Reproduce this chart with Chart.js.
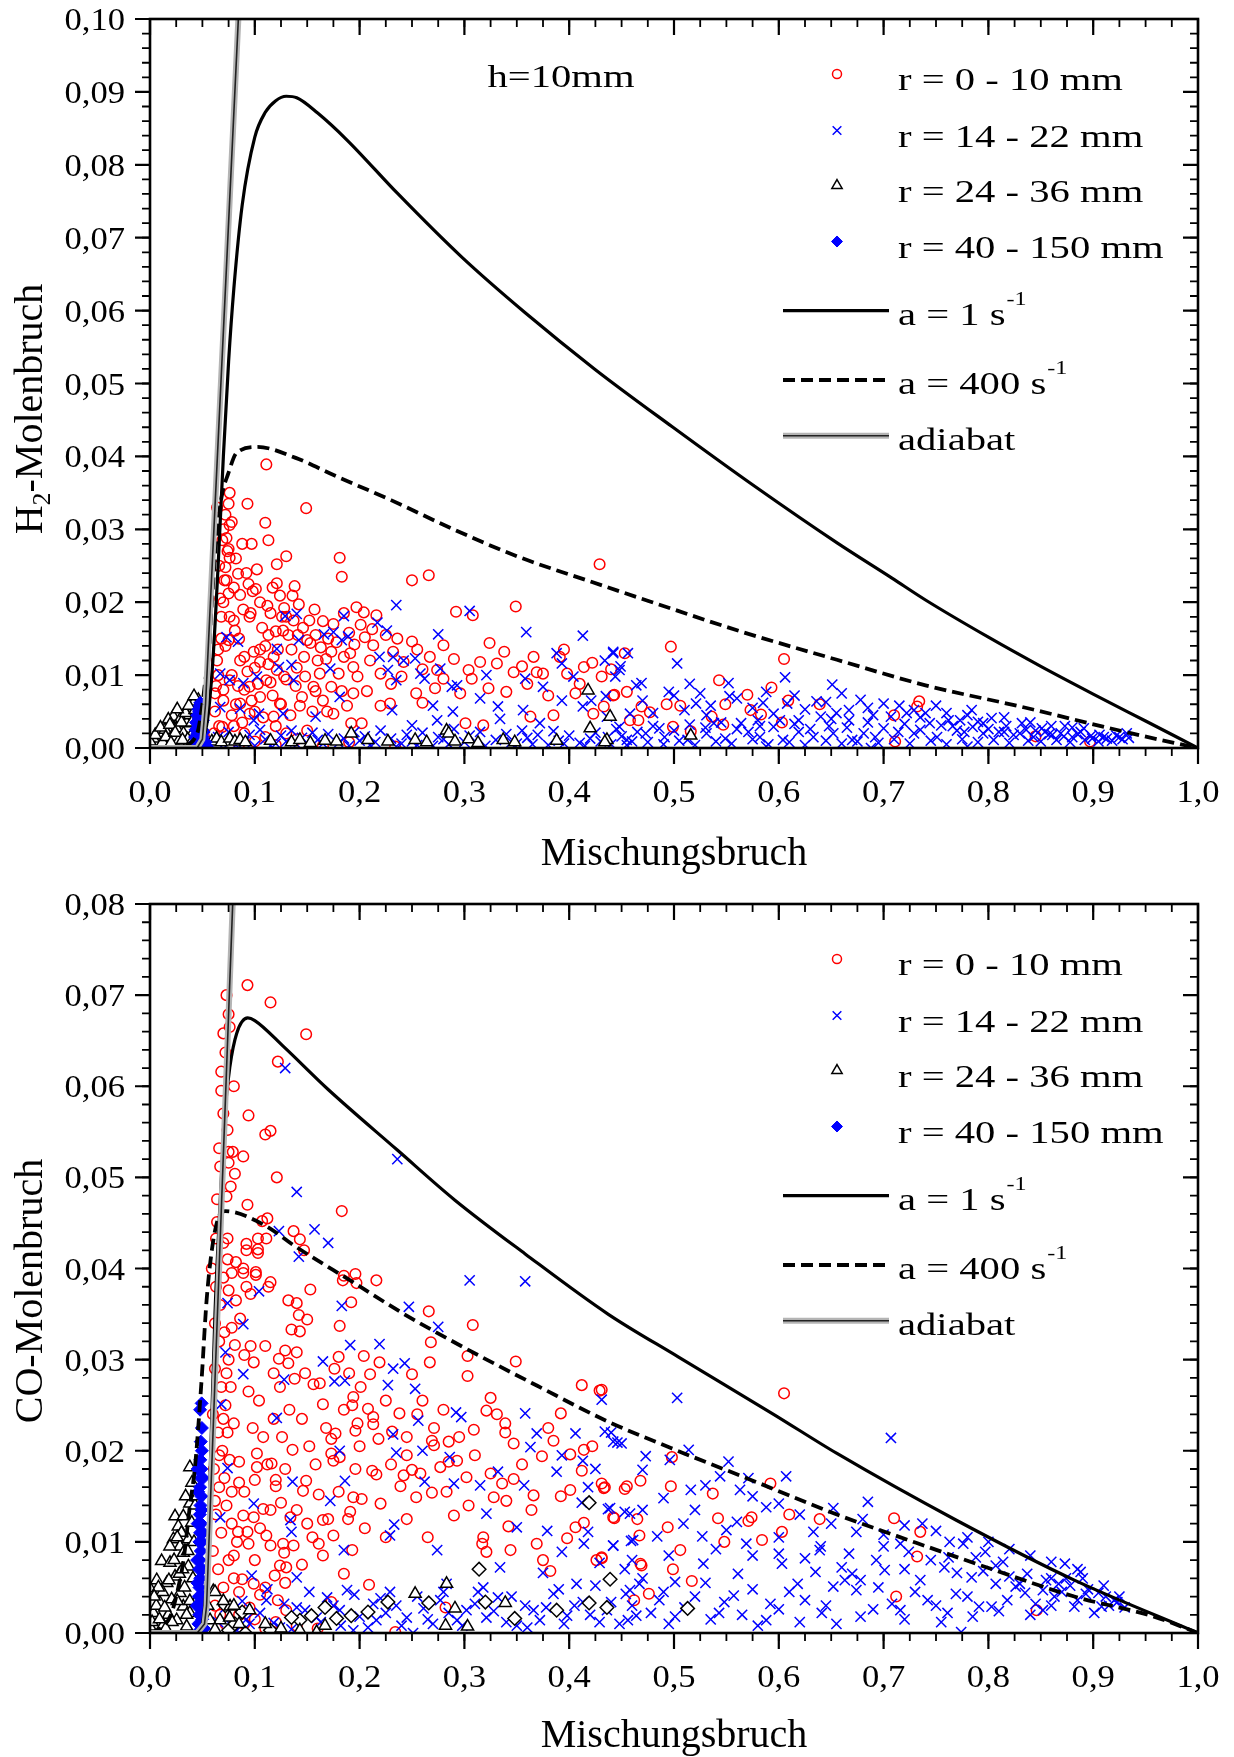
<!DOCTYPE html>
<html>
<head>
<meta charset="utf-8">
<script src="https://cdn.jsdelivr.net/npm/chart.js@4.4.1/dist/chart.umd.min.js"></script>
<style>
    body { margin: 0; background: #fff; }
    #wrap { position: relative; width: 1234px; height: 1757px; }
    .panel { position: absolute; left: 0; width: 1234px; }
</style>
</head>
<body>
<div id="wrap">
    <div class="panel" style="top:0;height:878px"><canvas id="h2" width="1234" height="878"></canvas></div>
    <div class="panel" style="top:878px;height:879px"><canvas id="co" width="1234" height="879"></canvas></div>
</div>
<script>
// Axes
const xTicks = [0, 0.1, 0.2, 0.3, 0.4, 0.5, 0.6, 0.7, 0.8, 0.9, 1.0];
const xTickLabels = ['0,0', '0,1', '0,2', '0,3', '0,4', '0,5', '0,6', '0,7', '0,8', '0,9', '1,0'];
const h2YTicks = [0, 0.01, 0.02, 0.03, 0.04, 0.05, 0.06, 0.07, 0.08, 0.09, 0.10];
const h2YTickLabels = ['0,00', '0,01', '0,02', '0,03', '0,04', '0,05', '0,06', '0,07', '0,08', '0,09', '0,10'];
const coYTicks = [0, 0.01, 0.02, 0.03, 0.04, 0.05, 0.06, 0.07, 0.08];
const coYTickLabels = ['0,00', '0,01', '0,02', '0,03', '0,04', '0,05', '0,06', '0,07', '0,08'];
const xMinorStep = 0.025;
const yMinorStep = 0.002;

const xTitle = 'Mischungsbruch';
const ringLabels = ['r = 0 - 10 mm', 'r = 14 - 22 mm', 'r = 24 - 36 mm', 'r = 40 - 150 mm'];
const curveLabels = [['a = 1 s', '-1'], ['a = 400 s', '-1'], ['adiabat', '']];

// ---------- H2 panel ----------
const h2Flame1 = [[0,0],[0.045,0],[0.05,0.001],[0.055,0.004],[0.06,0.012],[0.065,0.025],[0.07,0.04],[0.075,0.053],[0.08,0.063],[0.088,0.0745],[0.1,0.0838],[0.11,0.0872],[0.12,0.0888],[0.13,0.0894],[0.14,0.0892],[0.16,0.0871],[0.188,0.0834],[0.236,0.0761],[0.297,0.0674],[0.358,0.0597],[0.425,0.0519],[0.498,0.0441],[0.577,0.0359],[0.656,0.0281],[0.708,0.0233],[0.74,0.0203],[0.8,0.0152],[0.85,0.0112],[0.9,0.0074],[0.95,0.0037],[1.0,0]];
const h2Flame400 = [[0,0],[0.03,0.0003],[0.045,0.002],[0.05,0.006],[0.053,0.0095],[0.056,0.0125],[0.058,0.0176],[0.0604,0.023],[0.0636,0.029],[0.0684,0.0345],[0.0748,0.0377],[0.0827,0.0405],[0.1025,0.0413],[0.139,0.0398],[0.1757,0.0374],[0.23,0.034],[0.291,0.0299],[0.352,0.0262],[0.419,0.0229],[0.477,0.0201],[0.5645,0.01595],[0.6555,0.0121],[0.74,0.0086],[0.831,0.00567],[0.922,0.0025],[0.977,0.0007],[1.0,0]];
const h2Adiabat = [[0,0],[0.045,0],[0.05,0.0012],[0.053,0.006],[0.0843,0.1],[0.0872,0.11]];

const h2Ring0 = [[0.111,0.0389],[0.093,0.0335],[0.149,0.0329],[0.076,0.035],[0.075,0.0335],[0.110,0.0309],[0.076,0.0306],[0.113,0.0285],[0.073,0.0288],[0.075,0.0273],[0.076,0.0261],[0.130,0.0263],[0.181,0.0261],[0.183,0.0235],[0.121,0.0252],[0.084,0.0239],[0.072,0.0248],[0.073,0.0230],[0.121,0.0226],[0.138,0.0222],[0.094,0.0225],[0.101,0.0218],[0.124,0.0209],[0.136,0.0209],[0.075,0.0212],[0.429,0.0252],[0.250,0.0230],[0.266,0.0237],[0.349,0.0194],[0.292,0.0187],[0.308,0.0182],[0.089,0.0190],[0.096,0.0185],[0.115,0.0185],[0.128,0.0192],[0.142,0.0197],[0.157,0.0190],[0.165,0.0174],[0.175,0.0170],[0.185,0.0185],[0.197,0.0193],[0.204,0.0186],[0.216,0.0182],[0.201,0.0169],[0.146,0.0165],[0.153,0.0144],[0.127,0.0161],[0.113,0.0155],[0.080,0.0175],[0.081,0.0161],[0.075,0.0148],[0.099,0.0132],[0.086,0.0120],[0.105,0.0118],[0.121,0.0107],[0.130,0.0094],[0.111,0.0093],[0.095,0.0084],[0.076,0.0093],[0.070,0.0065],[0.086,0.0061],[0.105,0.0070],[0.124,0.0061],[0.118,0.0043],[0.095,0.0047],[0.143,0.0058],[0.150,0.0024],[0.169,0.0050],[0.175,0.0047],[0.192,0.0034],[0.202,0.0034],[0.191,0.0130],[0.194,0.0111],[0.213,0.0141],[0.210,0.0120],[0.220,0.0102],[0.236,0.0150],[0.250,0.0146],[0.267,0.0125],[0.274,0.0107],[0.280,0.0141],[0.272,0.0082],[0.296,0.0075],[0.304,0.0107],[0.307,0.0095],[0.324,0.0144],[0.338,0.0132],[0.331,0.0116],[0.347,0.0104],[0.323,0.0082],[0.340,0.0077],[0.301,0.0034],[0.318,0.0031],[0.366,0.0125],[0.369,0.0104],[0.375,0.0102],[0.391,0.0125],[0.398,0.0102],[0.414,0.0111],[0.422,0.0117],[0.406,0.0075],[0.363,0.0043],[0.385,0.0045],[0.453,0.0130],[0.455,0.0077],[0.442,0.0072],[0.431,0.0098],[0.433,0.0057],[0.423,0.0047],[0.458,0.0038],[0.220,0.0058],[0.229,0.0061],[0.254,0.0075],[0.194,0.0075],[0.156,0.0084],[0.162,0.0102],[0.173,0.0084],[0.183,0.0078],[0.064,0.0120],[0.062,0.0075],[0.069,0.0029],[0.150,0.0148],[0.234,0.0002],[0.497,0.0139],[0.605,0.0122],[0.543,0.0093],[0.593,0.0083],[0.570,0.0073],[0.609,0.0065],[0.639,0.0060],[0.734,0.0064],[0.732,0.0057],[0.493,0.0060],[0.506,0.0058],[0.469,0.0057],[0.477,0.0049],[0.549,0.0060],[0.573,0.0052],[0.583,0.0046],[0.536,0.0043],[0.466,0.0038],[0.499,0.0029],[0.516,0.0023],[0.547,0.0032],[0.603,0.0035],[0.710,0.0045],[0.711,0.0009],[0.443,0.0073],[0.845,0.0016],[0.897,0.0009],[0.062,0.005],[0.065,0.010],[0.068,0.015],[0.070,0.020],[0.066,0.025],[0.070,0.030],[0.064,0.033],[0.08,0.003],[0.09,0.002],[0.10,0.005],[0.11,0.0015],[0.12,0.003],[0.13,0.002],[0.09,0.008],[0.10,0.011],[0.11,0.014],[0.12,0.016],[0.085,0.015],[0.095,0.018],[0.105,0.020],[0.08,0.022],[0.09,0.0125],[0.105,0.0135],[0.135,0.0135],[0.14,0.011],[0.145,0.007],[0.155,0.005],[0.16,0.012],[0.17,0.015],[0.13,0.018],[0.115,0.009],[0.125,0.006],[0.078,0.010],[0.082,0.006],[0.076,0.018],[0.072,0.014],[0.07,0.008],[0.066,0.003],[0.068,0.018],[0.071,0.023],[0.074,0.027],[0.078,0.031],[0.082,0.026],[0.086,0.021],[0.088,0.028],[0.092,0.024],[0.097,0.028],[0.098,0.0215],[0.102,0.0245],[0.107,0.0165],[0.112,0.0195],[0.117,0.022],[0.118,0.0125],[0.122,0.0135],[0.126,0.018],[0.132,0.0155],[0.137,0.0175],[0.141,0.0155],[0.147,0.0125],[0.152,0.0175],[0.158,0.0155],[0.163,0.0138],[0.168,0.0122],[0.173,0.0132],[0.178,0.0145],[0.185,0.0125],[0.19,0.0158],[0.195,0.0142],[0.205,0.0152],[0.212,0.0163],[0.225,0.0155],[0.232,0.0132],[0.242,0.0118],[0.255,0.0135],[0.26,0.0108],[0.078,0.0045],[0.084,0.0085],[0.088,0.0035],[0.093,0.0105],[0.097,0.0065],[0.103,0.0088],[0.108,0.0042],[0.113,0.0115],[0.117,0.0072],[0.128,0.0098],[0.134,0.0045],[0.139,0.0085],[0.148,0.0098],[0.158,0.0078],[0.165,0.0065],[0.18,0.0102],[0.188,0.0058],[0.198,0.0098],[0.207,0.0078],[0.23,0.0088],[0.24,0.0098],[0.26,0.0062],[0.28,0.0095],[0.29,0.0122],[0.315,0.0118],[0.355,0.0112],[0.36,0.0088],[0.38,0.0072],[0.41,0.0088],[0.395,0.0135],[0.44,0.0108],[0.065,0.0135],[0.067,0.0205],[0.069,0.0285],[0.072,0.032],[0.061,0.002],[0.063,0.0085],[0.085,0.0005],[0.1,0.0009],[0.12,0.0004],[0.14,0.0012],[0.165,0.0003],[0.19,0.0008]];

const h2Ring1 = [[0.235,0.0196],[0.305,0.0188],[0.359,0.0159],[0.413,0.0154],[0.129,0.0181],[0.140,0.0184],[0.185,0.0181],[0.166,0.0156],[0.175,0.0159],[0.183,0.0148],[0.189,0.0153],[0.217,0.0172],[0.226,0.0161],[0.275,0.0156],[0.073,0.0152],[0.084,0.0146],[0.121,0.0136],[0.142,0.0148],[0.123,0.0111],[0.135,0.0114],[0.172,0.0109],[0.219,0.0125],[0.232,0.0125],[0.242,0.0120],[0.253,0.0123],[0.227,0.0107],[0.235,0.0093],[0.258,0.0102],[0.262,0.0095],[0.277,0.0109],[0.288,0.0084],[0.293,0.0086],[0.321,0.0100],[0.358,0.0095],[0.375,0.0084],[0.388,0.0130],[0.393,0.0116],[0.404,0.0098],[0.434,0.0120],[0.442,0.0130],[0.448,0.0107],[0.464,0.0086],[0.067,0.0102],[0.076,0.0093],[0.089,0.0089],[0.102,0.0098],[0.067,0.0056],[0.086,0.0054],[0.099,0.0038],[0.104,0.0047],[0.127,0.0047],[0.137,0.0093],[0.158,0.0043],[0.181,0.0070],[0.231,0.0052],[0.250,0.0031],[0.270,0.0058],[0.274,0.0038],[0.289,0.0050],[0.315,0.0068],[0.332,0.0057],[0.334,0.0040],[0.356,0.0052],[0.372,0.0034],[0.393,0.0065],[0.413,0.0057],[0.421,0.0065],[0.436,0.0043],[0.458,0.0047],[0.448,0.0029],[0.07,0.0005],[0.09,0.0008],[0.10,0.0003],[0.11,0.0012],[0.12,0.0006],[0.13,0.0009],[0.15,0.0004],[0.16,0.0011],[0.18,0.0007],[0.20,0.0010],[0.21,0.0004],[0.23,0.0013],[0.24,0.0006],[0.25,0.0009],[0.27,0.0003],[0.28,0.0012],[0.30,0.0008],[0.31,0.0005],[0.33,0.0011],[0.35,0.0006],[0.36,0.0014],[0.38,0.0004],[0.39,0.0010],[0.41,0.0007],[0.42,0.0013],[0.44,0.0005],[0.45,0.0016],[0.46,0.0009],[0.442,0.0132],[0.503,0.0116],[0.515,0.0088],[0.651,0.0087],[0.469,0.0089],[0.495,0.0077],[0.552,0.0089],[0.553,0.0071],[0.588,0.0077],[0.636,0.0064],[0.449,0.0112],[0.444,0.0098],[0.435,0.0071],[0.486,0.0027],[0.521,0.0061],[0.531,0.0045],[0.564,0.0034],[0.601,0.0038],[0.608,0.0061],[0.640,0.0043],[0.667,0.0052],[0.678,0.0066],[0.700,0.0061],[0.707,0.0043],[0.722,0.0048],[0.729,0.0052],[0.740,0.0048],[0.744,0.0034],[0.762,0.0038],[0.784,0.0052],[0.803,0.0041],[0.817,0.0030],[0.836,0.0025],[0.851,0.0027],[0.869,0.0020],[0.888,0.0022],[0.906,0.0018],[0.925,0.0015],[0.932,0.0020],[0.913,0.0013],[0.899,0.0013],[0.880,0.0015],[0.861,0.0018],[0.843,0.0015],[0.824,0.0018],[0.795,0.0020],[0.777,0.0022],[0.766,0.0030],[0.751,0.0015],[0.729,0.0020],[0.714,0.0022],[0.692,0.0015],[0.681,0.0020],[0.670,0.0011],[0.652,0.0020],[0.633,0.0015],[0.619,0.0022],[0.604,0.0011],[0.582,0.0015],[0.571,0.0022],[0.549,0.0013],[0.531,0.0020],[0.513,0.0011],[0.491,0.0015],[0.473,0.0020],[0.455,0.0011],[0.437,0.0015],[0.588,0.0002],[0.688,0.0000],[0.780,0.0002],[0.795,0.0034],[0.832,0.0034],[0.810,0.0022],[0.854,0.0022],[0.873,0.0030],[0.891,0.0027],[0.773,0.0038],[0.760,0.0048],[0.667,0.0038],[0.648,0.0030],[0.619,0.0038],[0.538,0.0034],[0.582,0.0030],[0.606,0.0097],[0.456,0.0130],[0.065,0.0015],[0.075,0.0022],[0.082,0.0004],[0.095,0.0018],[0.105,0.0025],[0.115,0.0003],[0.125,0.0017],[0.135,0.0024],[0.14,0.0005],[0.145,0.0014],[0.155,0.0021],[0.165,0.0006],[0.17,0.0019],[0.185,0.0013],[0.19,0.0003],[0.195,0.0022],[0.205,0.0016],[0.215,0.0008],[0.22,0.0024],[0.235,0.0002],[0.245,0.0018],[0.255,0.0004],[0.26,0.0021],[0.275,0.0015],[0.285,0.0005],[0.29,0.0026],[0.305,0.0017],[0.315,0.0022],[0.32,0.0003],[0.34,0.0019],[0.345,0.0008],[0.355,0.0024],[0.365,0.0005],[0.37,0.0018],[0.385,0.0023],[0.395,0.0006],[0.40,0.0017],[0.415,0.0003],[0.425,0.0021],[0.43,0.0009],[0.445,0.0026],[0.455,0.0004],[0.465,0.0022],[0.475,0.0008],[0.48,0.0030],[0.49,0.0005],[0.50,0.0024],[0.505,0.0010],[0.515,0.0032],[0.52,0.0004],[0.53,0.0028],[0.54,0.0009],[0.545,0.0035],[0.555,0.0006],[0.56,0.0026],[0.575,0.0012],[0.58,0.0038],[0.59,0.0005],[0.595,0.0029],[0.61,0.0008],[0.615,0.0033],[0.625,0.0004],[0.63,0.0026],[0.645,0.0010],[0.65,0.0040],[0.66,0.0006],[0.665,0.0028],[0.675,0.0009],[0.685,0.0035],[0.695,0.0007],[0.70,0.0027],[0.71,0.0012],[0.72,0.0033],[0.725,0.0006],[0.735,0.0025],[0.745,0.0010],[0.755,0.0031],[0.76,0.0005],[0.77,0.0024],[0.775,0.0012],[0.785,0.0029],[0.79,0.0008],[0.80,0.0026],[0.805,0.0011],[0.815,0.0022],[0.82,0.0007],[0.83,0.0020],[0.838,0.0010],[0.845,0.0024],[0.85,0.0009],[0.858,0.0019],[0.865,0.0011],[0.872,0.0016],[0.878,0.0008],[0.885,0.0019],[0.892,0.0011],[0.898,0.0017],[0.905,0.0009],[0.91,0.0015],[0.918,0.0010],[0.922,0.0017],[0.928,0.0012],[0.934,0.0014],[0.47,0.0065],[0.48,0.0048],[0.5,0.0072],[0.51,0.0052],[0.525,0.0075],[0.535,0.0058],[0.56,0.0068],[0.575,0.0055],[0.585,0.0062],[0.595,0.0047],[0.615,0.0072],[0.625,0.0053],[0.645,0.0063],[0.655,0.0048],[0.66,0.0075],[0.685,0.0055],[0.69,0.0045],[0.715,0.0058],[0.735,0.0042],[0.75,0.0058],[0.78,0.0045],[0.79,0.0036],[0.815,0.0042],[0.84,0.0035],[0.86,0.0030],[0.88,0.0028]];

const h2Ring2 = [[0.0461,0.0066],[0.0413,0.0061],[0.032,0.0045],[0.0223,0.0043],[0.0175,0.0039],[0.0286,0.0039],[0.035,0.0034],[0.008,0.0020],[0.0032,0.0013],[0.0143,0.0025],[0.0254,0.0027],[0.038,0.0045],[0.032,0.0020],[0.022,0.0015],[0.0413,0.0022],[0.0,0.0009],[0.0445,0.0011],[0.012,0.0008],[0.027,0.0009],[0.036,0.0012],[0.005,0.0018],[0.01,0.0028],[0.015,0.0015],[0.019,0.0032],[0.024,0.0021],[0.03,0.0035],[0.034,0.0048],[0.04,0.0035],[0.043,0.0052],[0.045,0.0028],[0.02,0.0007],[0.031,0.0011],[0.04,0.0009],[0.026,0.0053],[0.037,0.0058],[0.042,0.0071],[0.059,0.0009],[0.0636,0.0013],[0.068,0.0008],[0.076,0.0013],[0.081,0.0009],[0.086,0.0011],[0.091,0.0008],[0.115,0.0010],[0.135,0.0008],[0.143,0.0011],[0.153,0.0007],[0.167,0.0010],[0.178,0.0009],[0.192,0.0020],[0.208,0.0011],[0.227,0.0009],[0.253,0.0011],[0.264,0.0008],[0.283,0.0024],[0.285,0.0020],[0.291,0.0009],[0.304,0.0012],[0.313,0.0007],[0.337,0.0011],[0.348,0.0008],[0.388,0.0010],[0.418,0.0079],[0.420,0.0027],[0.436,0.0011],[0.439,0.0043],[0.434,0.0008],[0.516,0.0017]];

const h2Ring3 = [[0.0445,0.0005],[0.045,0.0012],[0.0455,0.002],[0.046,0.003],[0.0465,0.004],[0.047,0.005],[0.0475,0.0058],[0.048,0.0062],[0.0485,0.0055],[0.049,0.0045],[0.0495,0.0035],[0.050,0.0025],[0.0505,0.0015],[0.051,0.0008],[0.0475,0.001],[0.048,0.002],[0.0485,0.003],[0.049,0.001],[0.046,0.0015],[0.047,0.0025],[0.048,0.004],[0.0495,0.0005],[0.052,0.0003],[0.042,0.0006],[0.043,0.0015],[0.0435,0.0025],[0.044,0.0035],[0.045,0.0045],[0.0462,0.0053],[0.0505,0.0038],[0.0512,0.0022],[0.053,0.0008],[0.0545,0.0002]];

// ---------- CO panel ----------
const coFlame1 = [[0,0],[0.045,0],[0.05,0.001],[0.054,0.006],[0.058,0.02],[0.062,0.035],[0.066,0.0452],[0.072,0.0577],[0.0763,0.0622],[0.0827,0.0658],[0.0933,0.0675],[0.1,0.0672],[0.127,0.0644],[0.1695,0.0597],[0.236,0.0530],[0.291,0.0475],[0.358,0.0416],[0.437,0.035],[0.504,0.0303],[0.595,0.0240],[0.6555,0.0197],[0.769,0.0124],[0.882,0.0058],[1.0,0]];
const coFlame400 = [[0,0],[0.01,0.0005],[0.02,0.002],[0.027,0.005],[0.032,0.008],[0.038,0.0139],[0.043,0.0183],[0.049,0.0274],[0.054,0.0365],[0.059,0.042],[0.065,0.0455],[0.072,0.0463],[0.1086,0.0448],[0.139,0.0424],[0.1937,0.0385],[0.2424,0.035],[0.3033,0.0311],[0.37,0.0271],[0.437,0.0232],[0.497,0.0203],[0.58,0.0165],[0.6555,0.013],[0.731,0.0099],[0.806,0.0069],[0.882,0.004],[0.958,0.0018],[1.0,0]];
const coAdiabat = [[0,0],[0.045,0],[0.052,0.001],[0.054,0.003],[0.0789,0.08],[0.0815,0.088]];

const coRing0 = [[0.103,0.0417],[0.092,0.042],[0.196,0.0394],[0.197,0.0384],[0.184,0.0387],[0.216,0.0387],[0.153,0.0377],[0.115,0.0385],[0.113,0.0380],[0.092,0.0380],[0.101,0.0393],[0.096,0.0372],[0.089,0.0395],[0.078,0.0395],[0.075,0.0376],[0.132,0.0365],[0.140,0.0362],[0.142,0.0349],[0.150,0.0344],[0.135,0.0333],[0.143,0.0331],[0.181,0.0337],[0.192,0.0363],[0.266,0.0353],[0.308,0.0338],[0.349,0.0298],[0.268,0.0319],[0.267,0.0297],[0.303,0.0304],[0.303,0.0282],[0.180,0.0303],[0.204,0.0304],[0.219,0.0297],[0.096,0.0315],[0.110,0.0315],[0.081,0.0316],[0.099,0.0297],[0.123,0.0301],[0.129,0.0310],[0.140,0.0308],[0.132,0.0296],[0.118,0.0285],[0.124,0.0270],[0.138,0.0279],[0.148,0.0285],[0.156,0.0273],[0.162,0.0274],[0.176,0.0290],[0.210,0.0284],[0.201,0.0270],[0.250,0.0284],[0.165,0.0251],[0.194,0.0259],[0.193,0.0250],[0.208,0.0246],[0.213,0.0237],[0.213,0.0229],[0.198,0.0230],[0.196,0.0222],[0.238,0.0241],[0.255,0.0240],[0.271,0.0225],[0.309,0.0223],[0.325,0.0258],[0.321,0.0244],[0.331,0.0240],[0.339,0.0230],[0.339,0.0220],[0.347,0.0208],[0.385,0.0211],[0.392,0.0241],[0.412,0.0272],[0.429,0.0266],[0.414,0.0201],[0.422,0.0205],[0.412,0.0178],[0.401,0.0196],[0.374,0.0194],[0.347,0.0169],[0.336,0.0164],[0.328,0.0149],[0.340,0.0145],[0.366,0.0151],[0.364,0.0135],[0.392,0.0150],[0.401,0.0157],[0.431,0.0164],[0.433,0.0159],[0.453,0.0158],[0.455,0.0161],[0.442,0.0127],[0.468,0.0167],[0.414,0.0121],[0.406,0.0116],[0.398,0.0104],[0.369,0.0098],[0.375,0.0080],[0.382,0.0068],[0.426,0.0080],[0.431,0.0083],[0.468,0.0076],[0.342,0.0117],[0.344,0.0091],[0.318,0.0105],[0.317,0.0098],[0.321,0.0089],[0.304,0.0140],[0.290,0.0129],[0.302,0.0171],[0.285,0.0188],[0.277,0.0182],[0.293,0.0189],[0.283,0.0155],[0.269,0.0154],[0.254,0.0149],[0.271,0.0206],[0.269,0.0211],[0.285,0.0210],[0.245,0.0195],[0.250,0.0179],[0.258,0.0175],[0.242,0.0173],[0.239,0.0161],[0.216,0.0174],[0.212,0.0178],[0.218,0.0213],[0.231,0.0221],[0.181,0.0193],[0.175,0.0189],[0.173,0.0197],[0.177,0.0219],[0.173,0.0213],[0.196,0.0180],[0.220,0.0142],[0.202,0.0147],[0.194,0.0149],[0.191,0.0133],[0.189,0.0125],[0.165,0.0124],[0.161,0.0152],[0.146,0.0156],[0.149,0.0167],[0.136,0.0201],[0.129,0.0180],[0.120,0.0168],[0.120,0.0161],[0.116,0.0186],[0.102,0.0197],[0.102,0.0182],[0.100,0.0168],[0.085,0.0188],[0.085,0.0165],[0.108,0.0136],[0.099,0.0127],[0.089,0.0129],[0.084,0.0111],[0.083,0.0100],[0.093,0.0111],[0.094,0.0098],[0.111,0.0107],[0.115,0.0096],[0.127,0.0098],[0.128,0.0088],[0.137,0.0096],[0.125,0.0143],[0.134,0.0127],[0.124,0.0074],[0.130,0.0072],[0.119,0.0063],[0.129,0.0055],[0.150,0.0120],[0.175,0.0107],[0.161,0.0098],[0.193,0.0091],[0.088,0.0059],[0.099,0.0054],[0.110,0.0050],[0.122,0.0036],[0.209,0.0053],[0.282,0.0028],[0.234,0.0001],[0.173,0.0034],[0.130,0.0025],[0.059,0.040],[0.063,0.038],[0.067,0.036],[0.070,0.039],[0.074,0.041],[0.062,0.034],[0.066,0.032],[0.071,0.033],[0.075,0.030],[0.062,0.029],[0.068,0.027],[0.072,0.025],[0.077,0.027],[0.060,0.024],[0.065,0.022],[0.069,0.020],[0.074,0.022],[0.080,0.023],[0.061,0.018],[0.066,0.016],[0.071,0.017],[0.076,0.019],[0.063,0.013],[0.068,0.011],[0.073,0.014],[0.078,0.012],[0.060,0.009],[0.065,0.007],[0.070,0.005],[0.075,0.008],[0.080,0.006],[0.062,0.003],[0.067,0.002],[0.072,0.001],[0.085,0.002],[0.090,0.001],[0.100,0.0015],[0.110,0.0005],[0.120,0.0012],[0.140,0.0008],[0.160,0.0005],[0.093,0.0711],[0.115,0.0692],[0.073,0.0700],[0.075,0.0679],[0.076,0.0665],[0.070,0.0658],[0.149,0.0657],[0.122,0.0627],[0.072,0.0637],[0.068,0.0616],[0.068,0.0595],[0.080,0.0600],[0.094,0.0568],[0.070,0.0570],[0.074,0.0552],[0.115,0.0551],[0.110,0.0547],[0.066,0.0532],[0.075,0.0528],[0.079,0.0528],[0.089,0.0523],[0.075,0.0516],[0.067,0.0512],[0.081,0.0504],[0.077,0.0490],[0.121,0.0500],[0.064,0.0476],[0.073,0.0479],[0.093,0.0470],[0.183,0.0463],[0.107,0.0452],[0.112,0.0455],[0.137,0.0441],[0.143,0.0432],[0.103,0.0433],[0.111,0.0433],[0.092,0.0427],[0.103,0.0421],[0.147,0.0420],[0.074,0.0433],[0.070,0.0428],[0.064,0.0451],[0.063,0.0433],[0.082,0.0407],[0.089,0.0400],[0.101,0.0396],[0.185,0.0392],[0.605,0.0263],[0.431,0.0267],[0.498,0.0193],[0.497,0.0161],[0.434,0.0160],[0.537,0.0153],[0.592,0.0164],[0.443,0.0126],[0.465,0.0125],[0.639,0.0125],[0.710,0.0126],[0.542,0.0126],[0.571,0.0123],[0.574,0.0127],[0.610,0.0130],[0.494,0.0116],[0.467,0.0107],[0.603,0.0111],[0.735,0.0111],[0.548,0.0100],[0.584,0.0102],[0.506,0.0091],[0.431,0.0082],[0.732,0.0084],[0.469,0.0074],[0.499,0.0070],[0.517,0.0057],[0.476,0.0043],[0.462,0.0036],[0.712,0.0040],[0.846,0.0025],[0.062,0.0145],[0.066,0.0195],[0.070,0.0235],[0.073,0.0285],[0.078,0.0335],[0.082,0.0365],[0.086,0.0345],[0.090,0.0305],[0.094,0.0265],[0.098,0.0225],[0.104,0.0255],[0.108,0.0215],[0.112,0.0185],[0.118,0.0235],[0.126,0.0215],[0.133,0.0245],[0.145,0.0235],[0.152,0.0205],[0.158,0.0185],[0.168,0.0225],[0.185,0.0245],[0.190,0.0285],[0.200,0.0205],[0.225,0.0255],[0.230,0.0185],[0.245,0.0215],[0.260,0.0255],[0.280,0.0245],[0.295,0.0215],[0.310,0.0195],[0.325,0.0175],[0.355,0.0185],[0.380,0.0225],[0.090,0.0155],[0.105,0.0115],[0.115,0.0135],[0.140,0.0135],[0.155,0.0105],[0.170,0.0125],[0.180,0.0155],[0.205,0.0115],[0.225,0.0105],[0.245,0.0125],[0.265,0.0105],[0.080,0.0085],[0.100,0.0080],[0.145,0.0075],[0.165,0.0085],[0.185,0.0065],[0.078,0.0155],[0.085,0.0045],[0.095,0.0028],[0.105,0.0042]];

const coRing1 = [[0.129,0.0620],[0.236,0.0520],[0.140,0.0484],[0.123,0.0441],[0.157,0.0443],[0.170,0.0428],[0.142,0.0413],[0.305,0.0387],[0.358,0.0386],[0.183,0.0359],[0.247,0.0358],[0.275,0.0336],[0.104,0.0375],[0.074,0.0362],[0.089,0.0339],[0.072,0.0308],[0.089,0.0284],[0.191,0.0316],[0.165,0.0298],[0.219,0.0317],[0.232,0.0290],[0.243,0.0296],[0.227,0.0272],[0.253,0.0268],[0.176,0.0276],[0.186,0.0277],[0.128,0.0278],[0.068,0.0251],[0.121,0.0236],[0.232,0.0218],[0.256,0.0233],[0.292,0.0242],[0.297,0.0237],[0.358,0.0241],[0.369,0.0219],[0.363,0.0204],[0.406,0.0219],[0.434,0.0221],[0.442,0.0210],[0.450,0.0208],[0.235,0.0198],[0.260,0.0200],[0.286,0.0193],[0.181,0.0200],[0.074,0.0181],[0.332,0.0177],[0.388,0.0177],[0.393,0.0195],[0.413,0.0189],[0.425,0.0180],[0.315,0.0162],[0.290,0.0164],[0.262,0.0166],[0.357,0.0162],[0.418,0.0160],[0.186,0.0167],[0.136,0.0166],[0.172,0.0145],[0.099,0.0142],[0.321,0.0131],[0.412,0.0143],[0.437,0.0136],[0.458,0.0131],[0.067,0.0127],[0.134,0.0124],[0.135,0.0111],[0.233,0.0119],[0.229,0.0107],[0.350,0.0116],[0.379,0.0112],[0.418,0.0111],[0.414,0.0098],[0.442,0.0096],[0.461,0.0102],[0.185,0.0091],[0.274,0.0091],[0.393,0.0089],[0.097,0.0063],[0.140,0.0061],[0.334,0.0072],[0.375,0.0066],[0.429,0.0077],[0.453,0.0070],[0.188,0.0047],[0.229,0.0045],[0.283,0.0054],[0.313,0.0045],[0.332,0.0039],[0.385,0.0043],[0.407,0.0054],[0.458,0.0047],[0.111,0.0036],[0.140,0.0028],[0.181,0.0025],[0.216,0.0014],[0.245,0.0017],[0.261,0.0027],[0.302,0.0025],[0.321,0.0017],[0.366,0.0025],[0.398,0.0019],[0.436,0.0025],[0.464,0.0019],[0.095,0.0010],[0.124,0.0006],[0.159,0.0017],[0.194,0.0003],[0.251,0.0000],[0.350,0.0008],[0.429,0.0012],[0.083,0.0003],[0.213,0.0032],[0.277,0.0036],[0.293,0.0014],[0.372,0.0014],[0.413,0.0034],[0.169,0.0039],[0.270,0.0010],[0.503,0.0258],[0.707,0.0214],[0.514,0.0201],[0.473,0.0194],[0.470,0.0179],[0.496,0.0190],[0.552,0.0188],[0.544,0.0172],[0.607,0.0172],[0.571,0.0170],[0.563,0.0157],[0.516,0.0157],[0.440,0.0220],[0.446,0.0209],[0.431,0.0256],[0.685,0.0144],[0.652,0.0137],[0.439,0.0137],[0.453,0.0133],[0.509,0.0120],[0.527,0.0106],[0.484,0.0106],[0.459,0.0101],[0.588,0.0138],[0.550,0.0113],[0.569,0.0098],[0.600,0.0087],[0.633,0.0111],[0.639,0.0091],[0.667,0.0087],[0.674,0.0111],[0.693,0.0080],[0.716,0.0098],[0.737,0.0120],[0.724,0.0089],[0.763,0.0100],[0.776,0.0098],[0.797,0.0089],[0.814,0.0078],[0.837,0.0065],[0.888,0.0067],[0.867,0.0054],[0.920,0.0036],[0.442,0.0096],[0.528,0.0076],[0.635,0.0067],[0.467,0.0054],[0.501,0.0056],[0.561,0.0065],[0.603,0.0076],[0.663,0.0058],[0.701,0.0069],[0.735,0.0058],[0.758,0.0072],[0.784,0.0061],[0.807,0.0054],[0.826,0.0051],[0.852,0.0047],[0.874,0.0060],[0.893,0.0043],[0.908,0.0029],[0.923,0.0034],[0.454,0.0043],[0.486,0.0036],[0.520,0.0040],[0.557,0.0041],[0.592,0.0032],[0.625,0.0036],[0.674,0.0047],[0.708,0.0032],[0.742,0.0036],[0.769,0.0043],[0.791,0.0029],[0.818,0.0036],[0.845,0.0032],[0.863,0.0040],[0.882,0.0029],[0.901,0.0022],[0.456,0.0014],[0.501,0.0018],[0.543,0.0022],[0.588,0.0014],[0.641,0.0022],[0.678,0.0018],[0.716,0.0025],[0.761,0.0022],[0.803,0.0029],[0.852,0.0025],[0.774,0.0001],[0.830,0.0054],[0.860,0.0060],[0.873,0.0076],[0.788,0.0083],[0.762,0.0083],[0.807,0.0074],[0.678,0.0058],[0.652,0.0051],[0.618,0.0054],[0.912,0.0040],[0.065,0.0012],[0.072,0.0028],[0.078,0.0008],[0.088,0.0035],[0.092,0.0015],[0.105,0.0022],[0.112,0.0048],[0.118,0.0011],[0.128,0.0032],[0.135,0.0004],[0.148,0.0025],[0.152,0.0045],[0.163,0.0012],[0.175,0.0030],[0.182,0.0008],[0.195,0.0042],[0.200,0.0018],[0.208,0.0006],[0.220,0.0038],[0.225,0.0022],[0.235,0.0030],[0.240,0.0008],[0.255,0.0040],[0.265,0.0015],[0.280,0.0045],[0.285,0.0022],[0.298,0.0008],[0.310,0.0032],[0.318,0.0050],[0.328,0.0024],[0.340,0.0012],[0.345,0.0040],[0.358,0.0030],[0.360,0.0006],[0.378,0.0028],[0.390,0.0048],[0.395,0.0010],[0.405,0.0030],[0.420,0.0020],[0.425,0.0052],[0.440,0.0034],[0.448,0.0010],[0.460,0.0030],[0.470,0.0060],[0.478,0.0022],[0.490,0.0045],[0.495,0.0010],[0.510,0.0028],[0.530,0.0055],[0.535,0.0015],[0.548,0.0034],[0.565,0.0020],[0.575,0.0048],[0.580,0.0008],[0.600,0.0026],[0.610,0.0045],[0.620,0.0012],[0.645,0.0030],[0.655,0.0010],[0.660,0.0072],[0.690,0.0026],[0.695,0.0050],[0.720,0.0015],[0.730,0.0045],[0.750,0.0030],[0.755,0.0012],[0.780,0.0040],[0.785,0.0018],[0.795,0.0068],[0.810,0.0024],[0.820,0.0062],[0.835,0.0044],[0.840,0.0020],[0.855,0.0058],[0.860,0.0030],[0.870,0.0045],[0.878,0.0052],[0.885,0.0036],[0.890,0.0060],[0.895,0.0048],[0.905,0.0044],[0.910,0.0052],[0.915,0.0030],[0.925,0.0040],[0.930,0.0028],[0.885,0.0070],[0.860,0.0078],[0.840,0.0085],[0.820,0.0092],[0.800,0.0100],[0.780,0.0105],[0.750,0.0112],[0.720,0.0118],[0.700,0.0108],[0.680,0.0125],[0.650,0.0120],[0.620,0.0130],[0.600,0.0142],[0.575,0.0150],[0.530,0.0162],[0.490,0.0148],[0.470,0.0135],[0.520,0.0135],[0.560,0.0122],[0.600,0.0105],[0.640,0.0095],[0.700,0.0095],[0.745,0.0080],[0.770,0.0066],[0.720,0.0070],[0.670,0.0065],[0.625,0.0082],[0.575,0.0085],[0.540,0.0092],[0.495,0.0085],[0.460,0.0080]];

const coRing2 = [[0.038,0.0182],[0.0239,0.0128],[0.0318,0.0128],[0.038,0.0142],[0.0223,0.0103],[0.0286,0.0095],[0.0111,0.0079],[0.0191,0.0077],[0.0239,0.0062],[0.0318,0.0088],[0.0366,0.0073],[0.0064,0.0058],[0.016,0.0055],[0.0,0.0049],[0.0286,0.0044],[0.0207,0.0037],[0.0095,0.0033],[0.0318,0.0029],[0.0032,0.0022],[0.0175,0.0020],[0.0254,0.0014],[0.038,0.0022],[0.0127,0.0009],[0.035,0.0007],[0.0,0.0007],[0.0604,0.0046],[0.0573,0.0014],[0.0668,0.0014],[0.0764,0.0029],[0.0366,0.0103],[0.0398,0.0121],[0.027,0.0117],[0.002,0.0012],[0.006,0.0030],[0.009,0.0015],[0.012,0.0045],[0.014,0.0028],[0.018,0.0058],[0.021,0.0012],[0.023,0.0080],[0.026,0.0035],[0.028,0.0065],[0.030,0.0110],[0.033,0.0050],[0.034,0.0150],[0.036,0.0090],[0.040,0.0165],[0.041,0.0060],[0.042,0.0100],[0.044,0.0035],[0.035,0.0020],[0.015,0.0005],[0.008,0.0050],[0.019,0.0095],[0.026,0.0105],[0.031,0.0070],[0.043,0.0140],[0.004,0.0040],[0.045,0.0150],[0.038,0.0035],[0.055,0.0030],[0.070,0.0035],[0.085,0.0010],[0.095,0.0025],[0.110,0.0010],[0.125,0.0005],[0.283,0.0054],[0.253,0.0043],[0.291,0.0027],[0.339,0.0033],[0.282,0.0008],[0.303,0.0007],[0.167,0.0008],[0.143,0.0003],[0.159,0.0001],[0.062,0.0045],[0.080,0.0030],[0.076,0.0017],[0.062,0.0004]];

const coRing3 = [[0.0493,0.0252],[0.0478,0.0245],[0.0485,0.021],[0.0495,0.020],[0.048,0.019],[0.049,0.018],[0.0485,0.017],[0.0478,0.016],[0.049,0.015],[0.0482,0.014],[0.0475,0.013],[0.0488,0.012],[0.0478,0.011],[0.0472,0.010],[0.0485,0.009],[0.0475,0.008],[0.0468,0.007],[0.048,0.006],[0.0472,0.005],[0.0465,0.004],[0.0478,0.003],[0.047,0.002],[0.0462,0.001],[0.0475,0.0003],[0.0498,0.0015],[0.0502,0.0005],[0.0455,0.018],[0.0505,0.017],[0.0455,0.012],[0.0505,0.011],[0.045,0.008],[0.050,0.007],[0.0445,0.003],[0.0505,0.004],[0.0495,0.010],[0.0492,0.0135],[0.0495,0.0225],[0.046,0.0155],[0.0452,0.0055],[0.0508,0.0025],[0.0515,0.0005]];

const coOpen = [[0.419,0.0143],[0.314,0.0070],[0.439,0.0059],[0.320,0.0034],[0.388,0.0025],[0.419,0.0033],[0.436,0.0028],[0.348,0.0016],[0.266,0.0033],[0.227,0.0034],[0.208,0.0023],[0.192,0.0019],[0.178,0.0016],[0.167,0.0028],[0.154,0.0019],[0.143,0.0014],[0.135,0.0017],[0.115,0.0003],[0.091,0.0000],[0.075,0.0003],[0.072,0.0030],[0.088,0.0023],[0.081,0.0010],[0.513,0.0027]];

const FONT = '"Liberation Serif", "Times New Roman", serif';

function pts(arr) {
    return arr.map(p => ({ x: p[0], y: p[1] }));
}

// Text helper: canvas text with optional horizontal stretch
function txt(ctx, s, x, y, size, align, sx) {
    ctx.save();
    ctx.font = size + 'px ' + FONT;
    ctx.textBaseline = 'alphabetic';
    ctx.fillStyle = '#000';
    ctx.translate(x, y);
    ctx.scale(sx, 1);
    const w = ctx.measureText(s).width;
    const dx = align === 'right' ? -w : (align === 'center' ? -w / 2 : 0);
    ctx.fillText(s, dx, 0);
    ctx.restore();
    return w * sx;
}

function buildDatasets(rings, openDia, flame1, flame400, adiabat) {
    const sets = [
        { label: ringLabels[0], data: pts(rings[0]), pointStyle: 'circle', pointRadius: 5.3, pointBorderWidth: 1.5,
          pointBorderColor: '#ff0000', pointBackgroundColor: 'rgba(255,255,255,0)', order: 7 },
        { label: ringLabels[1], data: pts(rings[1]), pointStyle: 'crossRot', pointRadius: 7.2, pointBorderWidth: 1.5,
          pointBorderColor: '#0000ff', pointBackgroundColor: '#0000ff', order: 6 },
        { label: ringLabels[2], data: pts(rings[2]), pointStyle: 'triangle', pointRadius: 7, pointBorderWidth: 1.5,
          pointBorderColor: '#000000', pointBackgroundColor: '#ffffff', order: 4 },
        { label: ringLabels[3], data: pts(rings[3]), pointStyle: 'rectRot', pointRadius: 6.5, pointBorderWidth: 1,
          pointBorderColor: '#0000ff', pointBackgroundColor: '#0000ff', order: 3 }
    ];
    if (openDia) {
        sets.push({ label: 'open', data: pts(openDia), pointStyle: 'rectRot', pointRadius: 6.8, pointBorderWidth: 1.5,
            pointBorderColor: '#000000', pointBackgroundColor: '#ffffff', order: 5 });
    }
    sets.push(
        { label: 'a1', data: pts(flame1), showLine: true, borderColor: '#000', borderWidth: 3.2, pointRadius: 0,
          cubicInterpolationMode: 'monotone', order: 2 },
        { label: 'a400', data: pts(flame400), showLine: true, borderColor: '#000', borderWidth: 3.8, borderDash: [12, 6],
          pointRadius: 0, cubicInterpolationMode: 'monotone', order: 2 },
        { label: 'adiabat', data: pts(adiabat), showLine: true, borderColor: '#b4b4b4', borderWidth: 6, pointRadius: 0,
          tension: 0, order: 1 },
        { label: 'adiabatCore', data: pts(adiabat), showLine: true, borderColor: '#222', borderWidth: 1.6, pointRadius: 0,
          tension: 0, order: 0 }
    );
    return sets;
}

// Frame, ticks, labels and legend drawn on top of the data
function framePlugin(cfg) {
    return {
        id: 'frame',
        afterDatasetsDraw(chart) {
            const ctx = chart.ctx;
            const a = chart.chartArea;
            const xs = chart.scales.x;
            const ys = chart.scales.y;
            ctx.save();
            ctx.strokeStyle = '#000';
            ctx.lineCap = 'butt';

            // minor ticks
            ctx.lineWidth = 1.8;
            ctx.beginPath();
            const nx = Math.round(1 / xMinorStep);
            for (let i = 0; i <= nx; i++) {
                const px = xs.getPixelForValue(i * xMinorStep);
                ctx.moveTo(px, a.bottom); ctx.lineTo(px, a.bottom + 8);
                ctx.moveTo(px, a.top); ctx.lineTo(px, a.top + 8);
            }
            const ny = Math.round(cfg.yMax / yMinorStep);
            for (let i = 0; i <= ny; i++) {
                const py = ys.getPixelForValue(i * yMinorStep);
                ctx.moveTo(a.left - 8, py); ctx.lineTo(a.left, py);
                ctx.moveTo(a.right - 8, py); ctx.lineTo(a.right, py);
            }
            ctx.stroke();

            // major ticks
            ctx.lineWidth = 2.2;
            ctx.beginPath();
            xTicks.forEach(v => {
                const px = xs.getPixelForValue(v);
                ctx.moveTo(px, a.bottom); ctx.lineTo(px, a.bottom + 16);
                ctx.moveTo(px, a.top); ctx.lineTo(px, a.top + 16);
            });
            cfg.yTicks.forEach(v => {
                const py = ys.getPixelForValue(v);
                ctx.moveTo(a.left - 15, py); ctx.lineTo(a.left, py);
                ctx.moveTo(a.right - 15, py); ctx.lineTo(a.right, py);
            });
            ctx.stroke();

            // box
            ctx.lineWidth = 2.6;
            ctx.strokeRect(a.left, a.top, a.right - a.left, a.bottom - a.top);

            // tick labels
            xTicks.forEach((v, i) => {
                txt(ctx, xTickLabels[i], xs.getPixelForValue(v), a.bottom + 54, 32, 'center', 1.08);
            });
            cfg.yTicks.forEach((v, i) => {
                txt(ctx, cfg.yTickLabels[i], a.left - 25, ys.getPixelForValue(v) + 11, 32, 'right', 1.08);
            });

            // x title
            txt(ctx, xTitle, (a.left + a.right) / 2, a.bottom + cfg.xTitleOffset, 40, 'center', 1);

            // y title (rotated, with optional subscript)
            ctx.save();
            ctx.translate(42, cfg.yTitleCenter);
            ctx.rotate(-Math.PI / 2);
            let total = 0;
            cfg.yTitle.forEach(p => {
                ctx.font = p[1] + 'px ' + FONT;
                total += ctx.measureText(p[0]).width;
            });
            let cx = -total / 2;
            cfg.yTitle.forEach(p => {
                ctx.font = p[1] + 'px ' + FONT;
                ctx.fillStyle = '#000';
                ctx.textBaseline = 'alphabetic';
                ctx.fillText(p[0], cx, p[2]);
                cx += ctx.measureText(p[0]).width;
            });
            ctx.restore();

            if (cfg.note) {
                txt(ctx, cfg.note, 561, a.top + 68, 32, 'center', 1.27);
            }

            // legend
            const ds = chart.data.datasets;
            const markerX = a.left + 687;
            const textX = a.left + 748;
            const markerRows = [55, 111.5, 166.5, 222.5];
            markerRows.forEach((ry, i) => {
                const d = ds[i];
                ctx.save();
                ctx.strokeStyle = d.pointBorderColor;
                ctx.fillStyle = d.pointBackgroundColor;
                ctx.lineWidth = d.pointBorderWidth;
                Chart.helpers.drawPoint(ctx, { pointStyle: d.pointStyle, radius: d.pointRadius * 0.85,
                    borderWidth: d.pointBorderWidth, rotation: 0 }, markerX, a.top + ry);
                ctx.restore();
                txt(ctx, ringLabels[i], textX, a.top + ry + 16, 32, 'left', 1.27);
            });

            const lineRows = [291.7, 361, 416.7];
            lineRows.forEach((ry, i) => {
                const y = a.top + ry;
                const x0 = a.left + 633;
                const x1 = a.left + 739;
                ctx.save();
                ctx.strokeStyle = '#000';
                if (i === 0) { ctx.lineWidth = 3.2; }
                if (i === 1) { ctx.lineWidth = 3.8; ctx.setLineDash([12, 6]); }
                if (i === 2) { ctx.lineWidth = 6; ctx.strokeStyle = '#b4b4b4'; }
                ctx.beginPath(); ctx.moveTo(x0, y); ctx.lineTo(x1, y); ctx.stroke();
                if (i === 2) {
                    ctx.lineWidth = 1.6; ctx.strokeStyle = '#222';
                    ctx.beginPath(); ctx.moveTo(x0, y); ctx.lineTo(x1, y); ctx.stroke();
                }
                ctx.restore();
                const w = txt(ctx, curveLabels[i][0], textX, y + 14, 32, 'left', 1.27);
                if (curveLabels[i][1]) {
                    txt(ctx, curveLabels[i][1], textX + w + 1, y - 6, 19, 'left', 1.27);
                }
            });

            ctx.restore();
        }
    };
}

function makeChart(id, cfg) {
    return new Chart(document.getElementById(id), {
        type: 'scatter',
        data: { datasets: cfg.datasets },
        options: {
            responsive: false,
            animation: false,
            events: [],
            layout: { padding: { left: 0, right: 36, top: cfg.top, bottom: 0 } },
            plugins: { legend: { display: false }, tooltip: { enabled: false } },
            scales: {
                x: {
                    type: 'linear', min: 0, max: 1,
                    ticks: { display: false },
                    grid: { display: false, drawTicks: false },
                    border: { display: false },
                    afterFit: s => { s.height = cfg.xAxisHeight; }
                },
                y: {
                    type: 'linear', min: 0, max: cfg.yMax,
                    ticks: { display: false },
                    grid: { display: false, drawTicks: false },
                    border: { display: false },
                    afterFit: s => { s.width = 150; }
                }
            }
        },
        plugins: [framePlugin(cfg)]
    });
}

makeChart('h2', {
    datasets: buildDatasets([h2Ring0, h2Ring1, h2Ring2, h2Ring3], null, h2Flame1, h2Flame400, h2Adiabat),
    top: 19, xAxisHeight: 130, yMax: 0.1,
    yTicks: h2YTicks, yTickLabels: h2YTickLabels,
    yTitle: [['H', 40, 0], ['2', 26, 8], ['-Molenbruch', 40, 0]], yTitleCenter: 409,
    xTitleOffset: 117, note: 'h=10mm'
});

makeChart('co', {
    datasets: buildDatasets([coRing0, coRing1, coRing2, coRing3], coOpen, coFlame1, coFlame400, coAdiabat),
    top: 26, xAxisHeight: 124, yMax: 0.08,
    yTicks: coYTicks, yTickLabels: coYTickLabels,
    yTitle: [['CO-Molenbruch', 40, 0]], yTitleCenter: 413,
    xTitleOffset: 114, note: null
});
</script>
</body>
</html>
